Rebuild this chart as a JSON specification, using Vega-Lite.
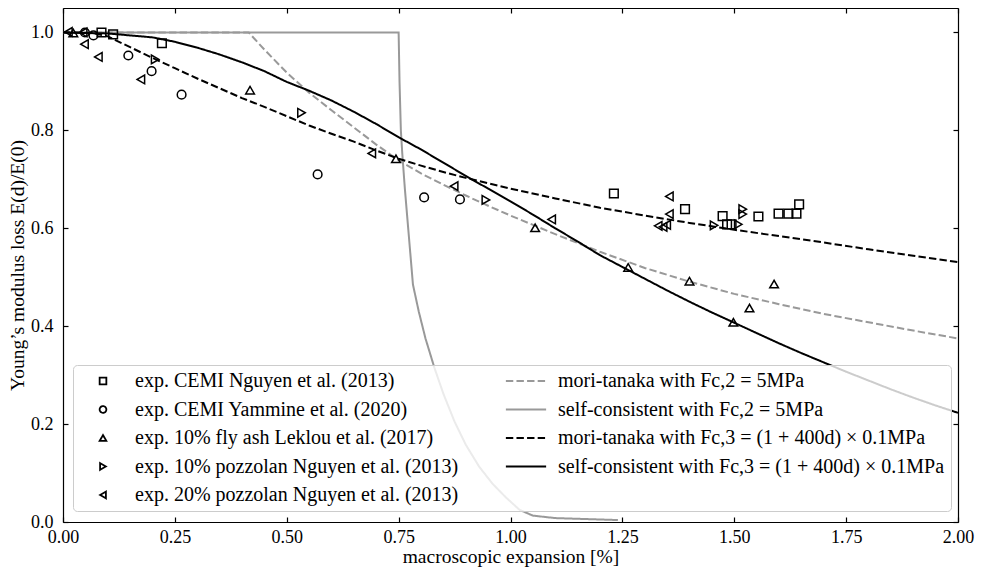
{
  "$schema": "https://vega.github.io/schema/vega-lite/v6.json",
  "width": 895,
  "height": 514,
  "autosize": {"type": "none"},
  "padding": {"left": 63, "top": 8, "right": 25, "bottom": 50},
  "background": "white",
  "config": {
    "view": {"stroke": null},
    "font": "Liberation Serif",
    "axis": {
      "domainColor": "black", "domainWidth": 1.2,
      "tickColor": "black", "tickWidth": 1.2, "tickSize": -5,
      "grid": false, "labelFlush": false, "labelOverlap": false,
      "labelFont": "Liberation Serif", "labelFontSize": 18, "labelColor": "black",
      "titleFont": "Liberation Serif", "titleFontSize": 19.5, "titleFontWeight": "normal", "titleColor": "black"
    },
    "legend": {
      "orient": "none", "legendX": 10, "legendY": 357,
      "columns": 2, "columnPadding": 43, "rowPadding": 8.5,
      "padding": 6, "symbolOffset": 14, "labelOffset": 22, "labelLimit": 0,
      "labelFont": "Liberation Serif", "labelFontSize": 20, "labelColor": "black",
      "fillColor": "rgba(255,255,255,0.8)", "strokeColor": "#cccccc", "cornerRadius": 4,
      "symbolSize": 45, "symbolStrokeWidth": 1.8, "symbolFillColor": "transparent"
    }
  },
  "datasets": {
    "points": [
      {"series": "exp. CEMI Nguyen et al. (2013)", "x": 0.086, "y": 1.0},
      {"series": "exp. CEMI Nguyen et al. (2013)", "x": 0.112, "y": 0.996},
      {"series": "exp. CEMI Nguyen et al. (2013)", "x": 0.221, "y": 0.978},
      {"series": "exp. CEMI Nguyen et al. (2013)", "x": 1.231, "y": 0.671},
      {"series": "exp. CEMI Nguyen et al. (2013)", "x": 1.39, "y": 0.639},
      {"series": "exp. CEMI Nguyen et al. (2013)", "x": 1.474, "y": 0.625},
      {"series": "exp. CEMI Nguyen et al. (2013)", "x": 1.484, "y": 0.608},
      {"series": "exp. CEMI Nguyen et al. (2013)", "x": 1.494, "y": 0.608},
      {"series": "exp. CEMI Nguyen et al. (2013)", "x": 1.554, "y": 0.624},
      {"series": "exp. CEMI Nguyen et al. (2013)", "x": 1.599, "y": 0.63},
      {"series": "exp. CEMI Nguyen et al. (2013)", "x": 1.621, "y": 0.63},
      {"series": "exp. CEMI Nguyen et al. (2013)", "x": 1.639, "y": 0.63},
      {"series": "exp. CEMI Nguyen et al. (2013)", "x": 1.645, "y": 0.649},
      {"series": "exp. CEMI Yammine et al. (2020)", "x": 0.049, "y": 1.0},
      {"series": "exp. CEMI Yammine et al. (2020)", "x": 0.068, "y": 0.994},
      {"series": "exp. CEMI Yammine et al. (2020)", "x": 0.146, "y": 0.953},
      {"series": "exp. CEMI Yammine et al. (2020)", "x": 0.198, "y": 0.921},
      {"series": "exp. CEMI Yammine et al. (2020)", "x": 0.265, "y": 0.873},
      {"series": "exp. CEMI Yammine et al. (2020)", "x": 0.569, "y": 0.71},
      {"series": "exp. CEMI Yammine et al. (2020)", "x": 0.807, "y": 0.663},
      {"series": "exp. CEMI Yammine et al. (2020)", "x": 0.887, "y": 0.659},
      {"series": "exp. 10% fly ash Leklou et al. (2017)", "x": 0.023, "y": 0.999},
      {"series": "exp. 10% fly ash Leklou et al. (2017)", "x": 0.418, "y": 0.882},
      {"series": "exp. 10% fly ash Leklou et al. (2017)", "x": 0.744, "y": 0.742},
      {"series": "exp. 10% fly ash Leklou et al. (2017)", "x": 1.055, "y": 0.601},
      {"series": "exp. 10% fly ash Leklou et al. (2017)", "x": 1.263, "y": 0.52},
      {"series": "exp. 10% fly ash Leklou et al. (2017)", "x": 1.4, "y": 0.492},
      {"series": "exp. 10% fly ash Leklou et al. (2017)", "x": 1.498, "y": 0.408},
      {"series": "exp. 10% fly ash Leklou et al. (2017)", "x": 1.534, "y": 0.437},
      {"series": "exp. 10% fly ash Leklou et al. (2017)", "x": 1.589, "y": 0.486},
      {"series": "exp. 10% pozzolan Nguyen et al. (2013)", "x": 0.206, "y": 0.945},
      {"series": "exp. 10% pozzolan Nguyen et al. (2013)", "x": 0.533, "y": 0.836},
      {"series": "exp. 10% pozzolan Nguyen et al. (2013)", "x": 0.945, "y": 0.658},
      {"series": "exp. 10% pozzolan Nguyen et al. (2013)", "x": 1.455, "y": 0.606},
      {"series": "exp. 10% pozzolan Nguyen et al. (2013)", "x": 1.509, "y": 0.608},
      {"series": "exp. 10% pozzolan Nguyen et al. (2013)", "x": 1.519, "y": 0.639},
      {"series": "exp. 10% pozzolan Nguyen et al. (2013)", "x": 1.519, "y": 0.629},
      {"series": "exp. 20% pozzolan Nguyen et al. (2013)", "x": 0.012, "y": 1.001},
      {"series": "exp. 20% pozzolan Nguyen et al. (2013)", "x": 0.045, "y": 1.0},
      {"series": "exp. 20% pozzolan Nguyen et al. (2013)", "x": 0.048, "y": 0.976},
      {"series": "exp. 20% pozzolan Nguyen et al. (2013)", "x": 0.079, "y": 0.95},
      {"series": "exp. 20% pozzolan Nguyen et al. (2013)", "x": 0.174, "y": 0.904},
      {"series": "exp. 20% pozzolan Nguyen et al. (2013)", "x": 0.69, "y": 0.753},
      {"series": "exp. 20% pozzolan Nguyen et al. (2013)", "x": 0.874, "y": 0.686},
      {"series": "exp. 20% pozzolan Nguyen et al. (2013)", "x": 1.092, "y": 0.618},
      {"series": "exp. 20% pozzolan Nguyen et al. (2013)", "x": 1.33, "y": 0.605},
      {"series": "exp. 20% pozzolan Nguyen et al. (2013)", "x": 1.341, "y": 0.603},
      {"series": "exp. 20% pozzolan Nguyen et al. (2013)", "x": 1.349, "y": 0.607},
      {"series": "exp. 20% pozzolan Nguyen et al. (2013)", "x": 1.355, "y": 0.665},
      {"series": "exp. 20% pozzolan Nguyen et al. (2013)", "x": 1.355, "y": 0.629}
    ],
    "lines": [
      {"series": "mori-tanaka with Fc,2 = 5MPa", "x": 0, "y": 1.0},
      {"series": "mori-tanaka with Fc,2 = 5MPa", "x": 0.415, "y": 1.0},
      {"series": "mori-tanaka with Fc,2 = 5MPa", "x": 0.45, "y": 0.965},
      {"series": "mori-tanaka with Fc,2 = 5MPa", "x": 0.5, "y": 0.918},
      {"series": "mori-tanaka with Fc,2 = 5MPa", "x": 0.55, "y": 0.877},
      {"series": "mori-tanaka with Fc,2 = 5MPa", "x": 0.6, "y": 0.841},
      {"series": "mori-tanaka with Fc,2 = 5MPa", "x": 0.65, "y": 0.806},
      {"series": "mori-tanaka with Fc,2 = 5MPa", "x": 0.7, "y": 0.771},
      {"series": "mori-tanaka with Fc,2 = 5MPa", "x": 0.75, "y": 0.739},
      {"series": "mori-tanaka with Fc,2 = 5MPa", "x": 0.8, "y": 0.712},
      {"series": "mori-tanaka with Fc,2 = 5MPa", "x": 0.85, "y": 0.689},
      {"series": "mori-tanaka with Fc,2 = 5MPa", "x": 0.9, "y": 0.667},
      {"series": "mori-tanaka with Fc,2 = 5MPa", "x": 0.95, "y": 0.646},
      {"series": "mori-tanaka with Fc,2 = 5MPa", "x": 1.0, "y": 0.626},
      {"series": "mori-tanaka with Fc,2 = 5MPa", "x": 1.1, "y": 0.588},
      {"series": "mori-tanaka with Fc,2 = 5MPa", "x": 1.2, "y": 0.552},
      {"series": "mori-tanaka with Fc,2 = 5MPa", "x": 1.3, "y": 0.519},
      {"series": "mori-tanaka with Fc,2 = 5MPa", "x": 1.4, "y": 0.491},
      {"series": "mori-tanaka with Fc,2 = 5MPa", "x": 1.5, "y": 0.466},
      {"series": "mori-tanaka with Fc,2 = 5MPa", "x": 1.6, "y": 0.445},
      {"series": "mori-tanaka with Fc,2 = 5MPa", "x": 1.7, "y": 0.425},
      {"series": "mori-tanaka with Fc,2 = 5MPa", "x": 1.8, "y": 0.408},
      {"series": "mori-tanaka with Fc,2 = 5MPa", "x": 1.9, "y": 0.391},
      {"series": "mori-tanaka with Fc,2 = 5MPa", "x": 2.0, "y": 0.375},
      {"series": "self-consistent with Fc,2 = 5MPa", "x": 0, "y": 1.0},
      {"series": "self-consistent with Fc,2 = 5MPa", "x": 0.75, "y": 1.0},
      {"series": "self-consistent with Fc,2 = 5MPa", "x": 0.752, "y": 0.9},
      {"series": "self-consistent with Fc,2 = 5MPa", "x": 0.755, "y": 0.8},
      {"series": "self-consistent with Fc,2 = 5MPa", "x": 0.758, "y": 0.755},
      {"series": "self-consistent with Fc,2 = 5MPa", "x": 0.764, "y": 0.68},
      {"series": "self-consistent with Fc,2 = 5MPa", "x": 0.77, "y": 0.615},
      {"series": "self-consistent with Fc,2 = 5MPa", "x": 0.782, "y": 0.485},
      {"series": "self-consistent with Fc,2 = 5MPa", "x": 0.795, "y": 0.43},
      {"series": "self-consistent with Fc,2 = 5MPa", "x": 0.81, "y": 0.375},
      {"series": "self-consistent with Fc,2 = 5MPa", "x": 0.83, "y": 0.315},
      {"series": "self-consistent with Fc,2 = 5MPa", "x": 0.85, "y": 0.262},
      {"series": "self-consistent with Fc,2 = 5MPa", "x": 0.875, "y": 0.205},
      {"series": "self-consistent with Fc,2 = 5MPa", "x": 0.9, "y": 0.158},
      {"series": "self-consistent with Fc,2 = 5MPa", "x": 0.93, "y": 0.113},
      {"series": "self-consistent with Fc,2 = 5MPa", "x": 0.96, "y": 0.078},
      {"series": "self-consistent with Fc,2 = 5MPa", "x": 0.99, "y": 0.05},
      {"series": "self-consistent with Fc,2 = 5MPa", "x": 1.02, "y": 0.025},
      {"series": "self-consistent with Fc,2 = 5MPa", "x": 1.05, "y": 0.013},
      {"series": "self-consistent with Fc,2 = 5MPa", "x": 1.1, "y": 0.008},
      {"series": "self-consistent with Fc,2 = 5MPa", "x": 1.17, "y": 0.006},
      {"series": "self-consistent with Fc,2 = 5MPa", "x": 1.24, "y": 0.004},
      {"series": "mori-tanaka with Fc,3 = (1 + 400d) × 0.1MPa", "x": 0, "y": 1.0},
      {"series": "mori-tanaka with Fc,3 = (1 + 400d) × 0.1MPa", "x": 0.04, "y": 0.9995},
      {"series": "mori-tanaka with Fc,3 = (1 + 400d) × 0.1MPa", "x": 0.07, "y": 0.998},
      {"series": "mori-tanaka with Fc,3 = (1 + 400d) × 0.1MPa", "x": 0.1, "y": 0.992},
      {"series": "mori-tanaka with Fc,3 = (1 + 400d) × 0.1MPa", "x": 0.15, "y": 0.97},
      {"series": "mori-tanaka with Fc,3 = (1 + 400d) × 0.1MPa", "x": 0.2, "y": 0.948},
      {"series": "mori-tanaka with Fc,3 = (1 + 400d) × 0.1MPa", "x": 0.25, "y": 0.927},
      {"series": "mori-tanaka with Fc,3 = (1 + 400d) × 0.1MPa", "x": 0.3, "y": 0.906},
      {"series": "mori-tanaka with Fc,3 = (1 + 400d) × 0.1MPa", "x": 0.35, "y": 0.886},
      {"series": "mori-tanaka with Fc,3 = (1 + 400d) × 0.1MPa", "x": 0.4, "y": 0.866},
      {"series": "mori-tanaka with Fc,3 = (1 + 400d) × 0.1MPa", "x": 0.45, "y": 0.848},
      {"series": "mori-tanaka with Fc,3 = (1 + 400d) × 0.1MPa", "x": 0.5, "y": 0.829},
      {"series": "mori-tanaka with Fc,3 = (1 + 400d) × 0.1MPa", "x": 0.55, "y": 0.81},
      {"series": "mori-tanaka with Fc,3 = (1 + 400d) × 0.1MPa", "x": 0.6, "y": 0.793},
      {"series": "mori-tanaka with Fc,3 = (1 + 400d) × 0.1MPa", "x": 0.65, "y": 0.777},
      {"series": "mori-tanaka with Fc,3 = (1 + 400d) × 0.1MPa", "x": 0.7, "y": 0.759},
      {"series": "mori-tanaka with Fc,3 = (1 + 400d) × 0.1MPa", "x": 0.75, "y": 0.742},
      {"series": "mori-tanaka with Fc,3 = (1 + 400d) × 0.1MPa", "x": 0.8, "y": 0.728},
      {"series": "mori-tanaka with Fc,3 = (1 + 400d) × 0.1MPa", "x": 0.85, "y": 0.715},
      {"series": "mori-tanaka with Fc,3 = (1 + 400d) × 0.1MPa", "x": 0.9, "y": 0.703},
      {"series": "mori-tanaka with Fc,3 = (1 + 400d) × 0.1MPa", "x": 1.0, "y": 0.681},
      {"series": "mori-tanaka with Fc,3 = (1 + 400d) × 0.1MPa", "x": 1.1, "y": 0.661},
      {"series": "mori-tanaka with Fc,3 = (1 + 400d) × 0.1MPa", "x": 1.2, "y": 0.642},
      {"series": "mori-tanaka with Fc,3 = (1 + 400d) × 0.1MPa", "x": 1.3, "y": 0.626},
      {"series": "mori-tanaka with Fc,3 = (1 + 400d) × 0.1MPa", "x": 1.4, "y": 0.611},
      {"series": "mori-tanaka with Fc,3 = (1 + 400d) × 0.1MPa", "x": 1.5, "y": 0.597},
      {"series": "mori-tanaka with Fc,3 = (1 + 400d) × 0.1MPa", "x": 1.6, "y": 0.584},
      {"series": "mori-tanaka with Fc,3 = (1 + 400d) × 0.1MPa", "x": 1.7, "y": 0.571},
      {"series": "mori-tanaka with Fc,3 = (1 + 400d) × 0.1MPa", "x": 1.8, "y": 0.557},
      {"series": "mori-tanaka with Fc,3 = (1 + 400d) × 0.1MPa", "x": 1.9, "y": 0.544},
      {"series": "mori-tanaka with Fc,3 = (1 + 400d) × 0.1MPa", "x": 2.0, "y": 0.531},
      {"series": "self-consistent with Fc,3 = (1 + 400d) × 0.1MPa", "x": 0, "y": 1.0},
      {"series": "self-consistent with Fc,3 = (1 + 400d) × 0.1MPa", "x": 0.1, "y": 0.998},
      {"series": "self-consistent with Fc,3 = (1 + 400d) × 0.1MPa", "x": 0.2, "y": 0.99},
      {"series": "self-consistent with Fc,3 = (1 + 400d) × 0.1MPa", "x": 0.25, "y": 0.981},
      {"series": "self-consistent with Fc,3 = (1 + 400d) × 0.1MPa", "x": 0.3, "y": 0.969},
      {"series": "self-consistent with Fc,3 = (1 + 400d) × 0.1MPa", "x": 0.35, "y": 0.955},
      {"series": "self-consistent with Fc,3 = (1 + 400d) × 0.1MPa", "x": 0.4, "y": 0.939},
      {"series": "self-consistent with Fc,3 = (1 + 400d) × 0.1MPa", "x": 0.45, "y": 0.921},
      {"series": "self-consistent with Fc,3 = (1 + 400d) × 0.1MPa", "x": 0.5, "y": 0.899},
      {"series": "self-consistent with Fc,3 = (1 + 400d) × 0.1MPa", "x": 0.55, "y": 0.881},
      {"series": "self-consistent with Fc,3 = (1 + 400d) × 0.1MPa", "x": 0.6, "y": 0.861},
      {"series": "self-consistent with Fc,3 = (1 + 400d) × 0.1MPa", "x": 0.65, "y": 0.838},
      {"series": "self-consistent with Fc,3 = (1 + 400d) × 0.1MPa", "x": 0.7, "y": 0.813},
      {"series": "self-consistent with Fc,3 = (1 + 400d) × 0.1MPa", "x": 0.75, "y": 0.786},
      {"series": "self-consistent with Fc,3 = (1 + 400d) × 0.1MPa", "x": 0.8, "y": 0.761},
      {"series": "self-consistent with Fc,3 = (1 + 400d) × 0.1MPa", "x": 0.85, "y": 0.734},
      {"series": "self-consistent with Fc,3 = (1 + 400d) × 0.1MPa", "x": 0.9, "y": 0.707},
      {"series": "self-consistent with Fc,3 = (1 + 400d) × 0.1MPa", "x": 0.95, "y": 0.681},
      {"series": "self-consistent with Fc,3 = (1 + 400d) × 0.1MPa", "x": 1.0, "y": 0.655},
      {"series": "self-consistent with Fc,3 = (1 + 400d) × 0.1MPa", "x": 1.05, "y": 0.628},
      {"series": "self-consistent with Fc,3 = (1 + 400d) × 0.1MPa", "x": 1.1, "y": 0.6},
      {"series": "self-consistent with Fc,3 = (1 + 400d) × 0.1MPa", "x": 1.15, "y": 0.573},
      {"series": "self-consistent with Fc,3 = (1 + 400d) × 0.1MPa", "x": 1.2, "y": 0.545},
      {"series": "self-consistent with Fc,3 = (1 + 400d) × 0.1MPa", "x": 1.25, "y": 0.521},
      {"series": "self-consistent with Fc,3 = (1 + 400d) × 0.1MPa", "x": 1.3, "y": 0.497},
      {"series": "self-consistent with Fc,3 = (1 + 400d) × 0.1MPa", "x": 1.35, "y": 0.473},
      {"series": "self-consistent with Fc,3 = (1 + 400d) × 0.1MPa", "x": 1.4, "y": 0.45},
      {"series": "self-consistent with Fc,3 = (1 + 400d) × 0.1MPa", "x": 1.45, "y": 0.428},
      {"series": "self-consistent with Fc,3 = (1 + 400d) × 0.1MPa", "x": 1.5, "y": 0.407},
      {"series": "self-consistent with Fc,3 = (1 + 400d) × 0.1MPa", "x": 1.55, "y": 0.386},
      {"series": "self-consistent with Fc,3 = (1 + 400d) × 0.1MPa", "x": 1.6, "y": 0.365},
      {"series": "self-consistent with Fc,3 = (1 + 400d) × 0.1MPa", "x": 1.65, "y": 0.345},
      {"series": "self-consistent with Fc,3 = (1 + 400d) × 0.1MPa", "x": 1.7, "y": 0.326},
      {"series": "self-consistent with Fc,3 = (1 + 400d) × 0.1MPa", "x": 1.75, "y": 0.307},
      {"series": "self-consistent with Fc,3 = (1 + 400d) × 0.1MPa", "x": 1.8, "y": 0.289},
      {"series": "self-consistent with Fc,3 = (1 + 400d) × 0.1MPa", "x": 1.85, "y": 0.271},
      {"series": "self-consistent with Fc,3 = (1 + 400d) × 0.1MPa", "x": 1.9, "y": 0.254},
      {"series": "self-consistent with Fc,3 = (1 + 400d) × 0.1MPa", "x": 1.95, "y": 0.238},
      {"series": "self-consistent with Fc,3 = (1 + 400d) × 0.1MPa", "x": 2.0, "y": 0.223}
    ]
  },
  "layer": [
    {
      "data": {"name": "lines"},
      "mark": {"type": "line", "strokeWidth": 2},
      "encoding": {
        "x": {
          "field": "x", "type": "quantitative",
          "scale": {"domain": [0, 2], "nice": false, "zero": false},
          "axis": {"orient": "bottom", "title": "macroscopic expansion [%]", "values": [0, 0.25, 0.5, 0.75, 1, 1.25, 1.5, 1.75, 2], "format": ".2f", "labelPadding": 11, "titlePadding": 1}
        },
        "y": {
          "field": "y", "type": "quantitative",
          "scale": {"domain": [0, 1.05], "nice": false, "zero": false},
          "axis": {"orient": "left", "title": "Young’s modulus loss E(d)/E(0)", "values": [0, 0.2, 0.4, 0.6, 0.8, 1.0], "format": ".1f", "labelPadding": 15, "titlePadding": 3}
        },
        "color": {
          "field": "series", "type": "nominal",
          "scale": {
            "domain": ["exp. CEMI Nguyen et al. (2013)", "exp. CEMI Yammine et al. (2020)", "exp. 10% fly ash Leklou et al. (2017)", "exp. 10% pozzolan Nguyen et al. (2013)", "exp. 20% pozzolan Nguyen et al. (2013)", "mori-tanaka with Fc,2 = 5MPa", "self-consistent with Fc,2 = 5MPa", "mori-tanaka with Fc,3 = (1 + 400d) × 0.1MPa", "self-consistent with Fc,3 = (1 + 400d) × 0.1MPa"],
            "range": ["black", "black", "black", "black", "black", "#999999", "#999999", "black", "black"]
          },
          "legend": {"title": null, "encode": {"symbols": {"update": {"fill": {"value": "transparent"}, "strokeWidth": {"value": 1.8}}}}}
        },
        "strokeDash": {
          "field": "series", "type": "nominal",
          "scale": {
            "domain": ["exp. CEMI Nguyen et al. (2013)", "exp. CEMI Yammine et al. (2020)", "exp. 10% fly ash Leklou et al. (2017)", "exp. 10% pozzolan Nguyen et al. (2013)", "exp. 20% pozzolan Nguyen et al. (2013)", "mori-tanaka with Fc,2 = 5MPa", "self-consistent with Fc,2 = 5MPa", "mori-tanaka with Fc,3 = (1 + 400d) × 0.1MPa", "self-consistent with Fc,3 = (1 + 400d) × 0.1MPa"],
            "range": [[1, 0], [1, 0], [1, 0], [1, 0], [1, 0], [7.4, 3.2], [1, 0], [7.4, 3.2], [1, 0]]
          },
          "legend": {"title": null, "encode": {"symbols": {"update": {"fill": {"value": "transparent"}, "strokeWidth": {"value": 1.8}}}}}
        }
      }
    },
    {
      "data": {"name": "points"},
      "mark": {"type": "point", "filled": false, "strokeWidth": 1.5, "size": 75, "opacity": 1},
      "encoding": {
        "x": {
          "field": "x", "type": "quantitative",
          "axis": {"orient": "top", "labels": false, "title": null, "values": [0, 0.25, 0.5, 0.75, 1, 1.25, 1.5, 1.75, 2]}
        },
        "y": {
          "field": "y", "type": "quantitative",
          "axis": {"orient": "right", "labels": false, "title": null, "values": [0, 0.2, 0.4, 0.6, 0.8, 1.0]}
        },
        "color": {
          "field": "series", "type": "nominal",
          "legend": {"title": null, "encode": {"symbols": {"update": {"fill": {"value": "transparent"}, "strokeWidth": {"value": 1.8}}}}}
        },
        "shape": {
          "field": "series", "type": "nominal",
          "scale": {
            "domain": ["exp. CEMI Nguyen et al. (2013)", "exp. CEMI Yammine et al. (2020)", "exp. 10% fly ash Leklou et al. (2017)", "exp. 10% pozzolan Nguyen et al. (2013)", "exp. 20% pozzolan Nguyen et al. (2013)", "mori-tanaka with Fc,2 = 5MPa", "self-consistent with Fc,2 = 5MPa", "mori-tanaka with Fc,3 = (1 + 400d) × 0.1MPa", "self-consistent with Fc,3 = (1 + 400d) × 0.1MPa"],
            "range": ["square", "circle", "triangle-up", "triangle-right", "triangle-left", "M-6,0H6", "M-6,0H6", "M-6,0H6", "M-6,0H6"]
          },
          "legend": {"title": null, "encode": {"symbols": {"update": {"fill": {"value": "transparent"}, "strokeWidth": {"value": 1.8}}}}}
        }
      }
    }
  ],
  "resolve": {"axis": {"x": "independent", "y": "independent"}}
}
